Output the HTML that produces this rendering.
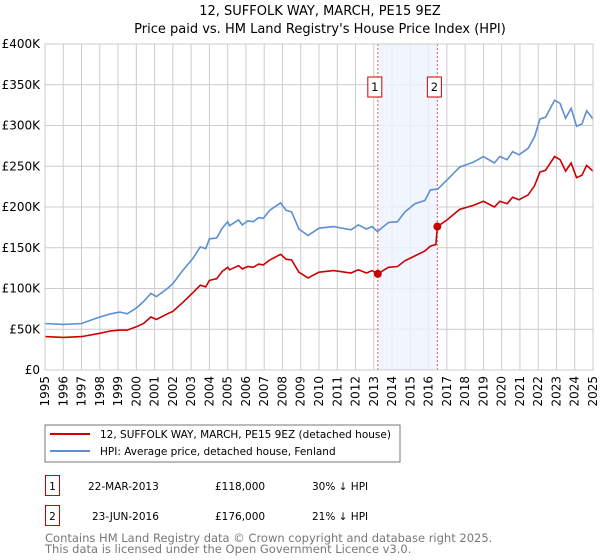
<!DOCTYPE html>
<html><head><meta charset="utf-8"><style>
body{margin:0;background:#fff;font-family:"Liberation Sans","DejaVu Sans",sans-serif;}
#wrap{position:relative;width:600px;height:560px;overflow:hidden}
</style></head><body>
<div id="wrap">
<svg id="chart" width="600" height="560" xmlns="http://www.w3.org/2000/svg" font-family="DejaVu Sans, Liberation Sans, sans-serif">
<text x="320" y="15" text-anchor="middle" font-size="13">12, SUFFOLK WAY, MARCH, PE15 9EZ</text>
<text x="320" y="33" text-anchor="middle" font-size="13">Price paid vs. HM Land Registry's House Price Index (HPI)</text>
<g id="grid"></g><g id="band"></g><g id="series"></g><g id="axes"></g>
<rect x="45" y="425" width="355" height="37" fill="#fff" stroke="#777"/>
<line x1="50" y1="434" x2="90" y2="434" stroke="#cc0000" stroke-width="2"/>
<text x="100" y="438" font-size="10.5">12, SUFFOLK WAY, MARCH, PE15 9EZ (detached house)</text>
<line x1="50" y1="451" x2="90" y2="451" stroke="#5b8fd6" stroke-width="2"/>
<text x="100" y="455" font-size="10.5">HPI: Average price, detached house, Fenland</text>
<g font-size="10.5">
<rect x="45.5" y="475.5" width="14" height="20" fill="none" stroke="#cc0000"/>
<text x="52.5" y="490" text-anchor="middle">1</text>
<text x="88" y="490">22-MAR-2013</text>
<text x="215" y="490">£118,000</text>
<text x="312" y="490">30% ↓ HPI</text>
<rect x="45.5" y="505.5" width="14" height="20" fill="none" stroke="#cc0000"/>
<text x="52.5" y="520" text-anchor="middle">2</text>
<text x="92" y="520">23-JUN-2016</text>
<text x="215" y="520">£176,000</text>
<text x="312" y="520">21% ↓ HPI</text>
</g>
<text x="45" y="542" font-size="11.5" fill="#777">Contains HM Land Registry data © Crown copyright and database right 2025.</text>
<text x="45" y="553" font-size="11.5" fill="#777">This data is licensed under the Open Government Licence v3.0.</text>
</svg></div>
<script>
const hpiYears=[1995,1996,1997,1998,1998.6,1999.1,1999.5,2000,2000.4,2000.8,2001.1,2001.7,2002,2002.5,2003.1,2003.5,2003.8,2004,2004.4,2004.7,2005,2005.1,2005.6,2005.8,2006.1,2006.4,2006.7,2006.95,2007.3,2007.9,2008.2,2008.5,2008.9,2009.4,2010,2010.8,2011.75,2012.15,2012.6,2012.9,2013.2,2013.8,2014.3,2014.7,2015.25,2015.8,2016.1,2016.5,2017,2017.7,2018.45,2019,2019.6,2019.9,2020.3,2020.6,2020.95,2021.45,2021.8,2022.1,2022.4,2022.9,2023.2,2023.5,2023.8,2024.1,2024.4,2024.65,2024.9,2025];
const hpiValues=[57,56,57,65,69,71,69,76,84,94,90,100,106,121,137,151,149,161,162,174,182,177,184,178,183,182,187,186,196,205,196,194,173,165,174,176,172,178,173,176,170,181,182,194,204,208,221,222,233,249,255,262,254,262,258,268,264,272,286,308,310,331,327,309,321,299,302,318,311,308];
const ppYears=[1995,1996,1997,1998,1998.6,1999.1,1999.5,2000,2000.4,2000.8,2001.1,2001.7,2002,2002.5,2003.1,2003.5,2003.8,2004,2004.4,2004.7,2005,2005.1,2005.6,2005.8,2006.1,2006.4,2006.7,2006.95,2007.3,2007.9,2008.2,2008.5,2008.9,2009.4,2010,2010.8,2011.75,2012.15,2012.6,2012.9,2013.22,2013.8,2014.3,2014.7,2015.25,2015.8,2016.1,2016.4,2016.48,2017,2017.7,2018.45,2019,2019.6,2019.9,2020.3,2020.6,2020.95,2021.45,2021.8,2022.1,2022.4,2022.9,2023.2,2023.5,2023.8,2024.1,2024.4,2024.65,2024.9,2025];
const ppValues=[41,40,41,45,48,49,49,53,57,65,62,69,72,82,95,104,102,110,112,121,126,123,128,124,127,126,130,129,135,142,136,135,120,113,120,122,119,123,119,122,118,126,127,134,140,146,152,154,176,184,197,202,207,200,207,204,212,209,215,226,243,245,262,258,244,254,236,239,251,246,244];
const saleYears=[2013.22,2016.48];
const saleValues=[118,176];
const saleLabels=["1","2"];
const yTicks=[0,50,100,150,200,250,300,350,400];
const yTickLabels=["£0","£50K","£100K","£150K","£200K","£250K","£300K","£350K","£400K"];
const xTicks=[1995,1996,1997,1998,1999,2000,2001,2002,2003,2004,2005,2006,2007,2008,2009,2010,2011,2012,2013,2014,2015,2016,2017,2018,2019,2020,2021,2022,2023,2024,2025];

const X0=45,X1=593,Y0=370,Y1=44;
const xs=y=>X0+(y-1995)/30*(X1-X0);
const ys=v=>Y0-v/400*(Y0-Y1);
const NS="http://www.w3.org/2000/svg";
function mk(tag,parent,attrs){const e=document.createElementNS(NS,tag);for(const k in attrs)e.setAttribute(k,attrs[k]);parent.appendChild(e);return e;}
const grid=document.getElementById('grid'),band=document.getElementById('band'),ser=document.getElementById('series'),axes=document.getElementById('axes');
yTicks.forEach((t,i)=>{
 const l=mk('line',grid,{x1:X0,x2:X1,y1:ys(t),y2:ys(t),stroke:'#ccc'});
 
 
 const tx=mk('text',axes,{x:40,y:ys(t)+4,'text-anchor':'end','font-size':'12'});
 tx.textContent=yTickLabels[i];
 
 
});
xTicks.forEach(t=>{
 const l=mk('line',grid,{x1:xs(t),x2:xs(t),y1:Y1,y2:Y0,stroke:'#ccc'});
 
 
 const tx=mk('text',axes,{x:0,y:0,'text-anchor':'end','font-size':'12',transform:`translate(${xs(t)+4},376) rotate(-90)`});
 tx.textContent=t;
 
 
});
const br=mk('rect',band,{x:xs(saleYears[0]),y:Y1,width:xs(saleYears[1])-xs(saleYears[0]),height:Y0-Y1,fill:'#eef3fd',opacity:0.8});


saleYears.forEach((y,i)=>{
 const l=mk('line',band,{x1:xs(y),x2:xs(y),y1:Y1,y2:Y0,stroke:'#e06060','stroke-dasharray':'2,2'});
 
 
});
const fr=mk('rect',axes,{x:X0,y:Y1,width:X1-X0,height:Y0-Y1,fill:'none',stroke:'#ccc'});


function path(xa,va,color,name){
 const d=xa.map((y,i)=>(i?'L':'M')+xs(y).toFixed(1)+','+ys(va[i]).toFixed(1)).join('');
 const p=mk('path',ser,{d:d,fill:'none',stroke:color,'stroke-width':1.6});
 
 
}
path(hpiYears,hpiValues,'#5b8fd6','hpi-line');
path(ppYears,ppValues,'#cc0000','price-paid-line');
saleYears.forEach((y,i)=>{
 const c=mk('circle',ser,{cx:xs(y),cy:ys(saleValues[i]),r:4,fill:'#cc0000'});
 
 
 const r=mk('rect',ser,{x:xs(y)-10,y:77,width:14,height:20,fill:'#fff',stroke:'#cc0000'});
 
 
 const t=mk('text',ser,{x:xs(y)-3,y:91,'text-anchor':'middle','font-size':'11.5'});
 t.textContent=saleLabels[i];
 
 
});
</script></body></html>
